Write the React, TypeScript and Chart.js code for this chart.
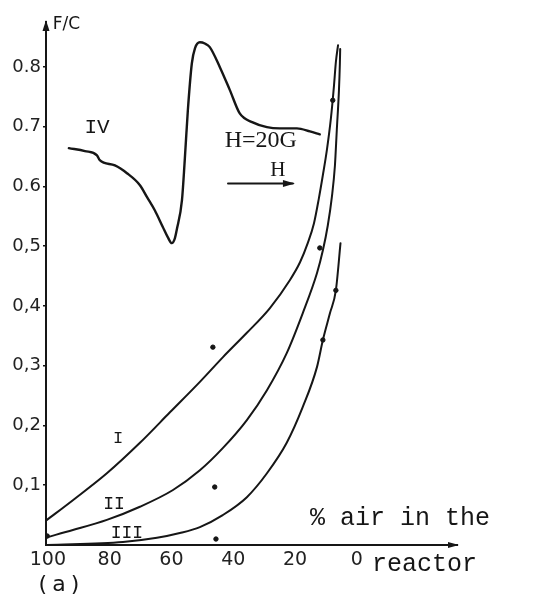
import React, { useEffect, useRef } from "react";
import { Chart, registerables } from "chart.js";

Chart.register(...registerables);

// ---- axis ticks ----
const xTicks = [100, 80, 60, 40, 20, 0];
const yTicks = [0.1, 0.2, 0.3, 0.4, 0.5, 0.6, 0.7, 0.8];
const yTickLabels = ["0,1", "0,2", "0,3", "0,4", "0,5", "0.6", "0.7", "0.8"];

// ---- curve I ----
const curveIx = [100.3, 91.9, 80.9, 70.2, 60.5, 50.8, 43.4, 35.6, 28.2, 21.7, 18.4, 15.9, 13.9, 12.3, 11.0, 9.7, 8.4, 7.4, 6.8, 6.1];
const curveIy = [0.042, 0.075, 0.12, 0.171, 0.222, 0.273, 0.314, 0.355, 0.396, 0.443, 0.473, 0.505, 0.538, 0.58, 0.619, 0.661, 0.714, 0.769, 0.808, 0.836];

// ---- curve II ----
const curveIIx = [100.3, 91.9, 80.9, 70.2, 59.5, 50.8, 43.4, 35.6, 29.1, 22.7, 17.5, 12.9, 11.0, 9.4, 8.1, 7.1, 6.5, 5.8, 5.5, 5.4];
const curveIIy = [0.013, 0.025, 0.042, 0.064, 0.092, 0.125, 0.162, 0.209, 0.259, 0.321, 0.388, 0.455, 0.493, 0.535, 0.582, 0.635, 0.694, 0.761, 0.806, 0.83];

// ---- curve III ----
const curveIIIx = [100.3, 75.7, 64.7, 57.3, 50.8, 43.4, 35.6, 29.1, 22.7, 17.5, 12.9, 11.0, 8.7, 6.8, 5.3];
const curveIIIy = [0.0, 0.005, 0.012, 0.02, 0.03, 0.05, 0.08, 0.12, 0.171, 0.231, 0.298, 0.343, 0.388, 0.426, 0.505];

// ---- inset IV (derivative signal, H = 20 G) ----
const curveIVx = [93.2, 88.0, 84.1, 83.2, 78.3, 74.4, 70.2, 67.9, 65.4, 62.8, 61.2, 59.9, 58.9, 58.3, 56.6, 55.7, 54.7, 53.4, 52.4, 50.8, 49.2, 47.6, 44.3, 41.1, 37.9, 33.7, 29.1, 24.9, 19.4, 15.2, 12.0];
const curveIVy = [0.664, 0.659, 0.652, 0.644, 0.635, 0.622, 0.602, 0.582, 0.56, 0.532, 0.515, 0.505, 0.513, 0.527, 0.577, 0.644, 0.727, 0.806, 0.831, 0.841, 0.839, 0.833, 0.799, 0.761, 0.722, 0.707, 0.699, 0.697, 0.697, 0.692, 0.687];

// ---- measured points ----
const dotsX = [46.6, 46.0, 45.6, 7.8, 12.0, 11.0, 6.8, 100.2];
const dotsY = [0.331, 0.097, 0.01, 0.744, 0.497, 0.343, 0.426, 0.015];

// ---- field direction arrow ----
const arrowX = [41.7, 20.7];
const arrowY = [0.605, 0.605];

const zip = (xs: number[], ys: number[]) => xs.map((x, i) => ({ x, y: ys[i] }));

type Lbl = { text: string; x: number; y: number; font: string; align: CanvasTextAlign; spacing?: string };
const labels: Lbl[] = [
  { text: "F/C", x: 98.4, y: 0.871, font: "17px 'DejaVu Sans'", align: "left" },
  { text: "IV", x: 84.1, y: 0.699, font: "21px 'Liberation Mono'", align: "center" },
  { text: "H=20G", x: 31.1, y: 0.676, font: "24px 'Liberation Serif'", align: "center" },
  { text: "H", x: 25.6, y: 0.627, font: "21px 'Liberation Serif'", align: "center" },
  { text: "I", x: 77.3, y: 0.179, font: "17px 'Liberation Mono'", align: "center" },
  { text: "II", x: 78.6, y: 0.069, font: "18px 'Liberation Mono'", align: "center" },
  { text: "III", x: 74.4, y: 0.02, font: "18px 'Liberation Mono'", align: "center" },
  { text: "% air in the", x: 15.2, y: 0.045, font: "25px 'Liberation Mono'", align: "left" },
  { text: "reactor", x: -4.9, y: -0.033, font: "25px 'Liberation Mono'", align: "left" },
  { text: "(a)", x: 103.0, y: -0.067, font: "22px 'DejaVu Sans'", align: "left", spacing: "5px" },
];

const INK = "#161616";

const decorPlugin = {
  id: "decor",
  beforeDraw(chart: any) {
    const { ctx } = chart;
    ctx.save();
    ctx.fillStyle = "#ffffff";
    ctx.fillRect(0, 0, chart.width, chart.height);
    ctx.restore();
  },
  afterDraw(chart: any) {
    const { ctx, chartArea } = chart;
    const xs = chart.scales.x;
    const ys = chart.scales.y;
    ctx.save();
    ctx.fillStyle = INK;
    ctx.strokeStyle = INK;
    // y axis arrow head
    const ax = chartArea.left;
    const at = chartArea.top;
    ctx.beginPath();
    ctx.moveTo(ax, at - 2);
    ctx.lineTo(ax - 3.5, at + 9);
    ctx.lineTo(ax + 3.5, at + 9);
    ctx.closePath();
    ctx.fill();
    // x axis arrow head
    const bx = chartArea.right;
    const bb = chartArea.bottom;
    ctx.beginPath();
    ctx.moveTo(bx + 2, bb);
    ctx.lineTo(bx - 9, bb - 3);
    ctx.lineTo(bx - 9, bb + 3);
    ctx.closePath();
    ctx.fill();
    // H arrow head
    const hx = xs.getPixelForValue(arrowX[1]);
    const hy = ys.getPixelForValue(arrowY[1]);
    ctx.beginPath();
    ctx.moveTo(hx + 2, hy);
    ctx.lineTo(hx - 10, hy - 3.5);
    ctx.lineTo(hx - 10, hy + 3.5);
    ctx.closePath();
    ctx.fill();
    // text labels
    ctx.textBaseline = "middle";
    for (const l of labels) {
      ctx.font = l.font;
      ctx.textAlign = l.align;
      (ctx as any).letterSpacing = l.spacing || "0px";
      ctx.fillText(l.text, xs.getPixelForValue(l.x), ys.getPixelForValue(l.y));
    }
    ctx.restore();
  },
};

export default function App() {
  const ref = useRef<HTMLCanvasElement | null>(null);
  useEffect(() => {
    if (!ref.current) return;
    const lineDs = (data: any[], width: number) => ({
      type: "line" as const,
      data,
      borderColor: INK,
      borderWidth: width,
      pointRadius: 0,
      fill: false,
      cubicInterpolationMode: "monotone" as const,
      borderCapStyle: "round" as const,
      borderJoinStyle: "round" as const,
      clip: false as any,
    });
    const chart = new Chart(ref.current, {
      type: "line",
      data: {
        datasets: [
          lineDs(zip(curveIx, curveIy), 2),
          lineDs(zip(curveIIx, curveIIy), 2),
          lineDs(zip(curveIIIx, curveIIIy), 2),
          lineDs(zip(curveIVx, curveIVy), 2.4),
          { ...lineDs(zip(arrowX, arrowY), 2), cubicInterpolationMode: "default", tension: 0 },
          {
            type: "scatter" as const,
            data: zip(dotsX, dotsY),
            backgroundColor: INK,
            borderColor: INK,
            pointRadius: 2.2,
            showLine: false,
          } as any,
        ],
      },
      options: {
        animation: false,
        responsive: false,
        maintainAspectRatio: false,
        layout: { padding: { left: 0, top: 22, right: 92, bottom: 0 } },
        plugins: { legend: { display: false }, tooltip: { enabled: false } },
        scales: {
          x: {
            type: "linear",
            reverse: true,
            min: -32.4,
            max: 100.6,
            afterBuildTicks: (s: any) => {
              s.ticks = xTicks.map((v) => ({ value: v }));
            },
            afterFit: (s: any) => {
              s.height = 49;
            },
            grid: { display: true, drawOnChartArea: false, drawTicks: false },
            border: { display: true, color: INK, width: 2 },
            ticks: {
              font: { family: "DejaVu Sans", size: 19 },
              color: "#222",
              padding: 4,
              maxRotation: 0,
              autoSkip: false,
              callback: (v: any) => String(v),
            },
          },
          y: {
            type: "linear",
            min: 0,
            max: 0.875,
            afterBuildTicks: (s: any) => {
              s.ticks = yTicks.map((v) => ({ value: v }));
            },
            afterFit: (s: any) => {
              s.width = 46;
            },
            grid: { display: true, drawOnChartArea: false, drawTicks: true, tickLength: 3, color: INK, lineWidth: 1.5 },
            border: { display: true, color: INK, width: 2 },
            ticks: {
              font: { family: "DejaVu Sans", size: 18 },
              color: "#222",
              padding: 2,
              autoSkip: false,
              callback: (v: any) => {
                const i = yTicks.indexOf(v);
                return i >= 0 ? yTickLabels[i] : "";
              },
            },
          },
        },
      } as any,
      plugins: [decorPlugin],
    });
    return () => chart.destroy();
  }, []);
  return (
    <div style={{ position: "absolute", left: 0, top: 0, width: 549, height: 594, background: "#fff" }}>
      <canvas ref={ref} width={549} height={594} style={{ width: 549, height: 594, display: "block" }} />
    </div>
  );
}
